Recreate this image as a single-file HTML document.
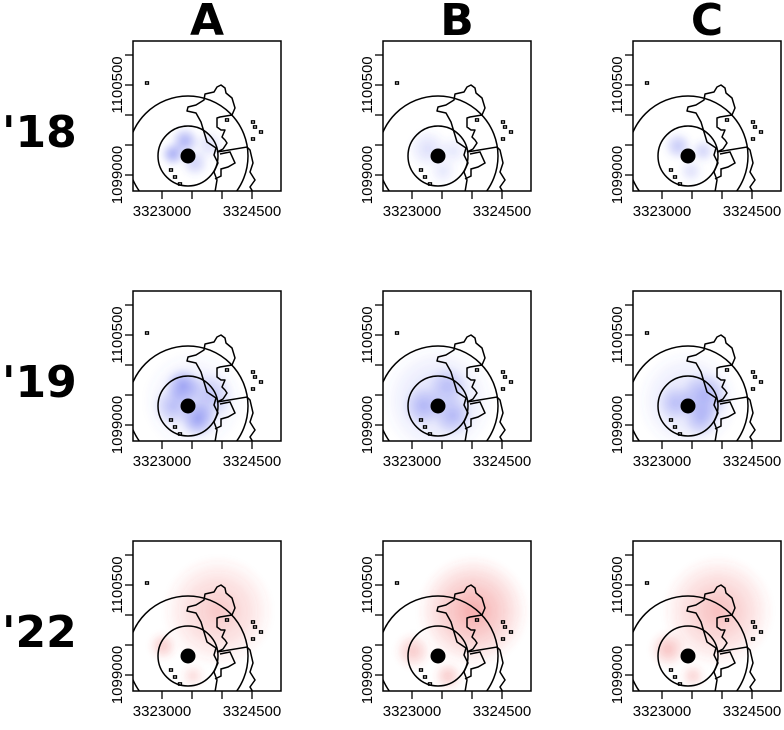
<!DOCTYPE html>
<html><head><meta charset="utf-8"><style>
html,body{margin:0;padding:0;background:#fff;}
svg{display:block;}
</style></head><body>
<svg id="chart" xmlns="http://www.w3.org/2000/svg" width="784" height="730" viewBox="0 0 784 730">
<defs>
<filter id="blur" x="-50%" y="-50%" width="200%" height="200%"><feGaussianBlur stdDeviation="3"/></filter>
</defs>
</svg>
<script>
const colLabels = ["A","B","C"];
const rowLabels = ["'18","'19","'22"];
const xTickValues = [3323000,3323500,3324000,3324500];
const xTickLabels = ["3323000","3324500"];
const yTickValues = [1099000,1099500,1100000,1100500,1101000];
const yTickLabels = ["1100500","1099000"];
const rowColors = ["80,90,235","80,90,235","235,70,70"];
// blobs per panel: [x, y, radius, opacity] in panel-local px
const blobs = [
 [[[52,100,14,0.5],[40,113,12,0.55],[62,122,14,0.3],[76,104,15,0.2]],
  [[45,108,20,0.2],[70,110,15,0.15],[60,130,14,0.15]],
  [[45,105,14,0.35],[70,110,12,0.28],[58,130,12,0.2]]],
 [[[50,95,18,0.55],[65,128,18,0.55],[40,115,20,0.35],[76,105,25,0.3],[60,110,50,0.15]],
  [[55,110,55,0.22],[40,115,20,0.35],[70,125,20,0.35],[65,95,20,0.3]],
  [[55,110,50,0.2],[42,112,18,0.3],[72,105,25,0.4],[68,128,18,0.35]]],
 [[[85,70,55,0.3],[30,105,14,0.3],[60,135,12,0.2]],
  [[90,70,55,0.45],[30,110,18,0.3],[65,135,14,0.3]],
  [[85,70,55,0.35],[35,108,18,0.35],[60,135,12,0.25]]]
];
const coast = [[82,151],[84,139],[81,131],[85,122],[81,114],[83,107],[74,101],[71,91],[68,81],[63,72],[54,70],[55,66],[63,64],[71,59],[72,53],[81,51],[84,46],[88,44],[92,47],[93,52],[99,57],[102,67],[99,74],[87,76],[84,77],[84,86],[88,89],[92,89],[89,96],[92,99],[94,102],[90,108],[84,111]];
const border = [[84,111],[114,106],[117,109],[120,122],[117,131],[122,139],[117,146],[120,151]];
const poly2 = [[87,113],[97,111],[102,122],[95,126],[88,128],[88,135],[82,138]];
const islands = [[14,42],[120,81],[122,86],[128,91],[120,98],[94,79],[38,129],[42,136],[47,143]];

const NS="http://www.w3.org/2000/svg";
const svg=document.getElementById('chart');
function mk(t,a,p){const e=document.createElementNS(NS,t);for(const k in a)e.setAttribute(k,a[k]);(p||svg).appendChild(e);return e;}
const W=148,H=150,X0=133,Y0=41,DX=250,DY=250;
const xScale=v=>29+(v-3323000)/500*30;
const yScale=v=>14+(1101000-v)/500*30;
const pts=a=>a.map(p=>p.join(',')).join(' ');

colLabels.forEach((c,i)=>{
 const t=mk('text',{x:X0+W/2+i*DX,y:35,'text-anchor':'middle','font-family':'DejaVu Sans, sans-serif','font-weight':'bold','font-size':'44'});
 t.textContent=c;
 
 
});
rowLabels.forEach((r,j)=>{
 const t=mk('text',{x:2,y:147+j*DY,'font-family':'DejaVu Sans, sans-serif','font-weight':'bold','font-size':'44'});
 t.textContent=r;
 
 
});

for(let j=0;j<3;j++)for(let i=0;i<3;i++){
 const ox=X0+i*DX, oy=Y0+j*DY;
 const g=mk('g',{transform:`translate(${ox},${oy})`});
 
 
 const cid=`clip${i}${j}`;
 const cp=mk('clipPath',{id:cid},g); mk('rect',{x:0,y:0,width:W,height:H},cp);
 const inner=mk('g',{'clip-path':`url(#${cid})`},g);
 const hg=mk('g',{filter:'url(#blur)'},inner);
 
 
 const col=rowColors[j];
 blobs[j][i].forEach((b,k)=>{
  const gid=`grad${i}${j}${k}`;
  const rg=mk('radialGradient',{id:gid},svg.querySelector('defs'));
  mk('stop',{offset:'0','stop-color':`rgb(${col})`,'stop-opacity':b[3]},rg);
  mk('stop',{offset:'0.6','stop-color':`rgb(${col})`,'stop-opacity':b[3]*0.45},rg);
  mk('stop',{offset:'1','stop-color':`rgb(${col})`,'stop-opacity':0},rg);
  const c=mk('circle',{cx:b[0],cy:b[1],r:b[2],fill:`url(#${gid})`},hg);
  
  
 });
 const st={fill:'none',stroke:'#000','stroke-width':1.5};
 const c1=mk('circle',Object.assign({cx:55,cy:115,r:60},st),inner);
 
 
 const c2=mk('circle',Object.assign({cx:55,cy:115,r:30},st),inner);
 
 
 const l1=mk('polyline',Object.assign({points:pts(coast),'stroke-linejoin':'round'},st),inner);
 
 
 const l2=mk('polyline',Object.assign({points:pts(border)},st),inner);
 
 
 const l3=mk('polyline',Object.assign({points:pts(poly2)},st),inner);
 
 
 islands.forEach(p=>{
  const e=mk('rect',{x:p[0]-1.5,y:p[1]-1.2,width:3,height:2.4,fill:'none',stroke:'#000','stroke-width':1.3},inner);
  
  
 });
 const dot=mk('circle',{cx:55,cy:115,r:7.5,fill:'#000'},inner);
 
 
 const fr=mk('rect',{x:0,y:0,width:W,height:H,fill:'none',stroke:'#000','stroke-width':1.5},g);
 
 
 xTickValues.forEach(v=>{
  const tk=mk('line',{x1:xScale(v),x2:xScale(v),y1:H,y2:H+8,stroke:'#000','stroke-width':1.3},g);
  
  
 });
 yTickValues.forEach(v=>{
  const tk=mk('line',{x1:-8,x2:0,y1:yScale(v),y2:yScale(v),stroke:'#000','stroke-width':1.3},g);
  
  
 });
 xTickLabels.forEach(s=>{
  const t=mk('text',{x:xScale(+s),y:H+25,'text-anchor':'middle','font-family':'Liberation Sans, sans-serif','font-size':'15'},g);
  t.textContent=s;
  
  
 });
 yTickLabels.forEach(s=>{
  const y=yScale(+s);
  const t=mk('text',{x:0,y:0,transform:`translate(-11,${y}) rotate(-90)`,'text-anchor':'middle','font-family':'Liberation Sans, sans-serif','font-size':'15'},g);
  t.textContent=s;
  
  
 });
}
</script>
</body></html>
